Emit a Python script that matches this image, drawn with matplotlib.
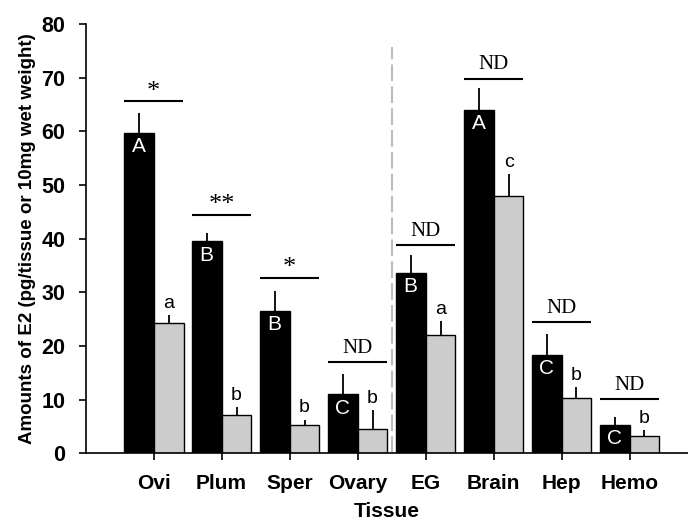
import numpy as np
import matplotlib
matplotlib.use('Agg')
import matplotlib.pyplot as plt

# tissues and E2 amounts
tissues = ['Ovi', 'Plum', 'Sper', 'Ovary', 'EG', 'Brain', 'Hep', 'Hemo']
black_vals = [59.7, 39.5, 26.5, 11.0, 33.7, 64.0, 18.3, 5.3]
black_err = [3.8, 1.5, 3.7, 3.8, 3.3, 4.1, 3.9, 1.4]
gray_vals = [24.3, 7.2, 5.3, 4.5, 22.0, 48.0, 10.3, 3.2]
gray_err = [1.4, 1.5, 1.0, 3.6, 2.7, 4.0, 2.1, 1.1]
black_letters = ['A', 'B', 'B', 'C', 'B', 'A', 'C', 'C']
gray_letters = ['a', 'b', 'b', 'b', 'a', 'c', 'b', 'b']
sig_labels = ['*', '**', '*', 'ND', 'ND', 'ND', 'ND', 'ND']
sig_heights = [65.6, 44.5, 32.7, 17.0, 38.8, 69.8, 24.5, 10.1]

plt.rcParams['font.family'] = ['Liberation Sans', 'DejaVu Sans']

fig = plt.figure(figsize=(6.88, 5.2), dpi=100)
ax = fig.add_axes([0.125, 0.128, 0.875, 0.826])

x = np.arange(len(tissues))
w = 0.44

ax.bar(x - w / 2, black_vals, w, color='black', edgecolor='black', linewidth=1, zorder=2)
ax.bar(x + w / 2, gray_vals, w, color='#cccccc', edgecolor='black', linewidth=1, zorder=2)

# one-sided error bars
ax.vlines(x - w / 2, black_vals, np.array(black_vals) + np.array(black_err), color='black', linewidth=1.3, zorder=1)
ax.vlines(x + w / 2, gray_vals, np.array(gray_vals) + np.array(gray_err), color='black', linewidth=1.3, zorder=1)

for i in range(len(tissues)):
    ax.text(x[i] - w / 2, black_vals[i] - 0.8, black_letters[i], color='white', ha='center', va='top', fontsize=15)
    ax.text(x[i] + w / 2, gray_vals[i] + gray_err[i] + 0.6, gray_letters[i], color='black', ha='center', va='bottom', fontsize=14)
    ax.hlines(sig_heights[i], x[i] - 0.43, x[i] + 0.43, color='black', linewidth=1.5)
    if sig_labels[i] == 'ND':
        ax.text(x[i], sig_heights[i] + 0.8, 'ND', family='Liberation Serif', ha='center', va='bottom', fontsize=15)
    else:
        ax.text(x[i], sig_heights[i] - 0.3, sig_labels[i], family='Liberation Serif', ha='center', va='bottom', fontsize=19)

ax.vlines(3.5, 0, 75.7, color='#bbbbbb', linewidth=1.5, linestyles=(0, (8, 2.5)), zorder=0)

ax.set_xlim(-0.994, 7.86)
ax.set_ylim(0, 80)
ax.set_yticks(range(0, 81, 10))
ax.set_xticks(x)
ax.set_xticklabels(tissues, fontsize=15, fontweight='bold')
for lab in ax.get_yticklabels():
    lab.set_fontsize(15.5)
    lab.set_fontweight('bold')
ax.tick_params(axis='both', direction='out', length=5, width=1.2)
ax.tick_params(axis='x', pad=10)
ax.tick_params(axis='y', pad=10)
ax.spines['top'].set_visible(False)
ax.spines['right'].set_visible(False)
ax.spines['left'].set_linewidth(1.2)
ax.spines['bottom'].set_linewidth(1.2)

ax.set_xlabel('Tissue', fontsize=15, fontweight='bold', labelpad=6)
ax.set_ylabel('Amounts of E2 (pg/tissue or 10mg wet weight)', fontsize=13.5, fontweight='bold', labelpad=4)

fig.savefig('out.png', dpi=100)
